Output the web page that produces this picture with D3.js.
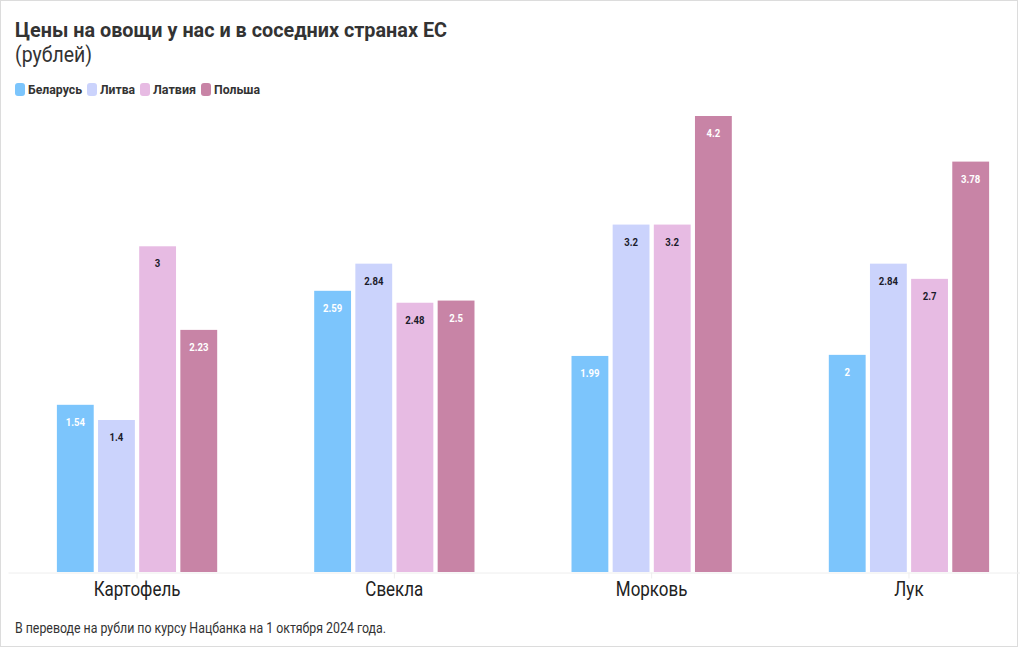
<!DOCTYPE html>
<html>
<head>
  <meta charset="utf-8">
  <script src="https://cdn.jsdelivr.net/npm/d3@7"></script>
  <style>
    body { margin: 0; background: #fff; }
    svg { display: block; font-family: Roboto, "Liberation Sans", sans-serif; }
  </style>
</head>
<body>
<svg id="chart" width="1020" height="650"></svg>
<script>
  var categories = ["Картофель", "Свекла", "Морковь", "Лук"];
  var countries = ["Беларусь", "Литва", "Латвия", "Польша"];
  var belarus = [1.54, 2.59, 1.99, 2];
  var lithuania = [1.4, 2.84, 3.2, 2.84];
  var latvia = [3, 2.48, 3.2, 2.7];
  var poland = [2.23, 2.5, 4.2, 3.78];

  var colors = ["#7cc5fc", "#cbd3fc", "#e7bbe3", "#c884a6"];
  var labelColors = ["#fff", "#1b1b2b", "#1b1b2b", "#fff"];
  var series = [belarus, lithuania, latvia, poland];

  var svg = d3.select("#chart");

  // squeeze Roboto so it looks like the condensed face of the original
  function condense(sel, k) {
    sel.each(function() {
      var w = this.getComputedTextLength();
      d3.select(this).attr("textLength", w * k).attr("lengthAdjust", "spacingAndGlyphs");
    });
  }
  function fitTo(sel, w) {
    sel.attr("textLength", w).attr("lengthAdjust", "spacingAndGlyphs");
  }

  svg.append("rect")
    .attr("x", 0.5).attr("y", 0.5)
    .attr("width", 1017).attr("height", 646)
    .attr("fill", "#fff").attr("stroke", "#dcdcdc");

  var rows = [];
  categories.forEach(function(c, i) {
    rows.push({ cat: c, vals: series.map(function(s, j) { return { key: countries[j], idx: j, v: s[i] }; }) });
  });

  var x0 = d3.scaleBand().domain(categories).range([8, 1038]).paddingInner(0.377).paddingOuter(0.19);
  var x1 = d3.scaleBand().domain(countries).range([0, x0.bandwidth()]).paddingInner(0.105);
  var y = d3.scaleLinear().domain([0, 4.2]).range([572, 116]);

  // baseline + ticks
  var xAxis = svg.append("g")
    .attr("transform", "translate(0,572.5)")
    .call(d3.axisBottom(x0).tickSize(6).tickSizeOuter(0).tickFormat(""));
  xAxis.select(".domain").attr("stroke", "#eeeeee");
  xAxis.selectAll(".tick line").attr("stroke", "#eeeeee");

  var groups = svg.append("g").selectAll("g")
    .data(rows).enter().append("g")
    .attr("transform", function(d) { return "translate(" + x0(d.cat) + ",0)"; });

  groups.selectAll("rect")
    .data(function(d) { return d.vals; })
    .enter().append("rect")
    .attr("x", function(d) { return x1(d.key); })
    .attr("y", function(d) { return y(d.v); })
    .attr("width", x1.bandwidth())
    .attr("height", function(d) { return y(0) - y(d.v); })
    .attr("fill", function(d) { return colors[d.idx]; });

  var vl = groups.selectAll("text.val")
    .data(function(d) { return d.vals; })
    .enter().append("text")
    .attr("class", "val")
    .attr("x", function(d) { return x1(d.key) + x1.bandwidth() / 2; })
    .attr("y", function(d) { return y(d.v) + 21; })
    .attr("text-anchor", "middle")
    .attr("font-size", 11)
    .attr("font-weight", "bold")
    .attr("fill", function(d) { return labelColors[d.idx]; })
    .text(function(d) { return d.v; });
  condense(vl, 0.87);

  var cl = svg.append("g").selectAll("text")
    .data(categories).enter().append("text")
    .attr("x", function(d) { return x0(d) + x0.bandwidth() / 2; })
    .attr("y", 596)
    .attr("text-anchor", "middle")
    .attr("font-size", 19.5)
    .attr("fill", "#222")
    .text(function(d) { return d; });
  condense(cl, 0.87);

  var title = svg.append("text")
    .attr("x", 15).attr("y", 37)
    .attr("font-size", 21).attr("font-weight", "bold").attr("fill", "#333")
    .text("Цены на овощи у нас и в соседних странах ЕС");
  fitTo(title, 432);

  var sub = svg.append("text")
    .attr("x", 15).attr("y", 62)
    .attr("font-size", 22).attr("fill", "#333")
    .text("(рублей)");
  fitTo(sub, 77);

  // legend
  var legendW = [54, 35, 43, 46];
  var lx = 15;
  countries.forEach(function(c, i) {
    svg.append("rect")
      .attr("x", lx).attr("y", 83)
      .attr("width", 10).attr("height", 13).attr("rx", 3)
      .attr("fill", colors[i]);
    var t = svg.append("text")
      .attr("x", lx + 13).attr("y", 94)
      .attr("font-size", 13.5).attr("font-weight", "bold").attr("fill", "#333")
      .text(c);
    fitTo(t, legendW[i]);
    lx += 13 + legendW[i] + 5;
  });

  var note = svg.append("text")
    .attr("x", 15).attr("y", 633)
    .attr("font-size", 14).attr("fill", "#333")
    .text("В переводе на рубли по курсу Нацбанка на 1 октября 2024 года.");
  fitTo(note, 371);
</script>
</body>
</html>
